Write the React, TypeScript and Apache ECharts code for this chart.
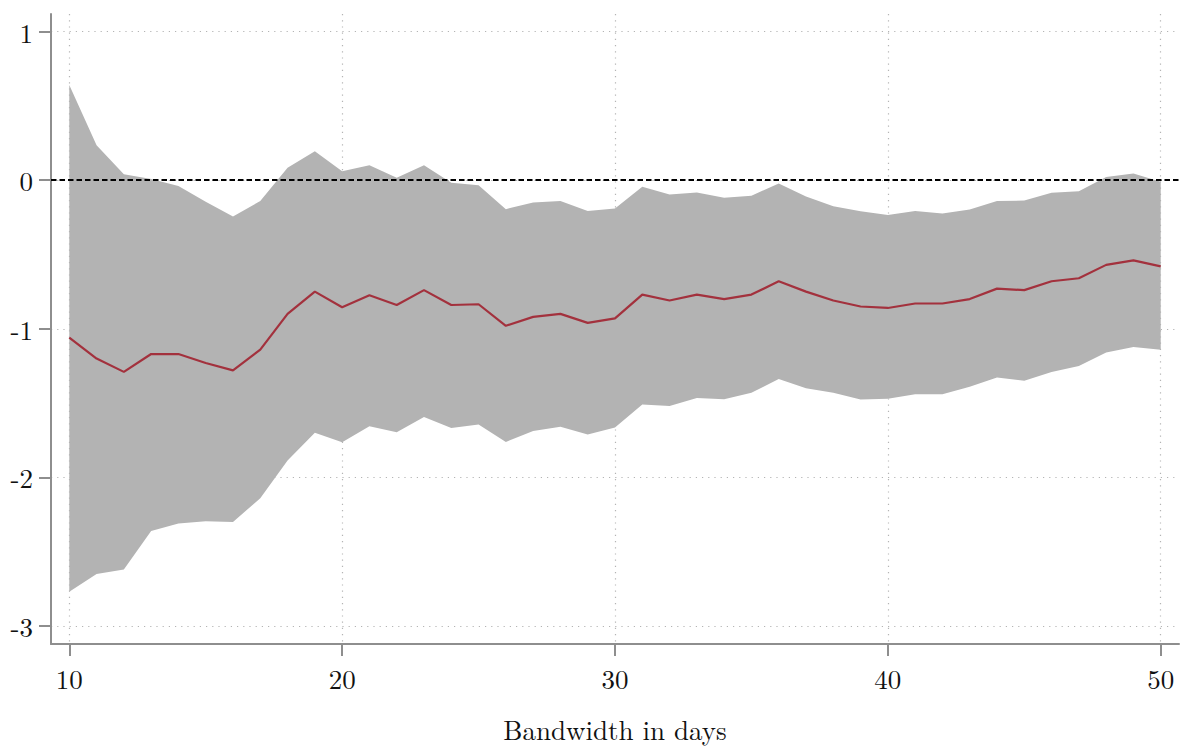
import React, { useEffect, useRef } from "react";
import * as echarts from "echarts";

const days = [10, 11, 12, 13, 14, 15, 16, 17, 18, 19, 20, 21, 22, 23, 24, 25, 26, 27, 28, 29, 30, 31, 32, 33, 34, 35, 36, 37, 38, 39, 40, 41, 42, 43, 44, 45, 46, 47, 48, 49, 50];

const estimate = [-1.06, -1.2, -1.29, -1.17, -1.17, -1.23, -1.28, -1.14, -0.9, -0.75, -0.855, -0.775, -0.84, -0.74, -0.84, -0.835, -0.98, -0.92, -0.9, -0.96, -0.93, -0.77, -0.81, -0.77, -0.8, -0.77, -0.68, -0.75, -0.81, -0.85, -0.86, -0.83, -0.83, -0.8, -0.73, -0.74, -0.68, -0.66, -0.57, -0.54, -0.58];

const upper = [0.64, 0.235, 0.04, 0.007, -0.04, -0.145, -0.245, -0.14, 0.083, 0.195, 0.06, 0.1, 0.016, 0.1, -0.018, -0.034, -0.195, -0.15, -0.14, -0.208, -0.19, -0.045, -0.096, -0.083, -0.119, -0.105, -0.022, -0.11, -0.175, -0.21, -0.235, -0.208, -0.224, -0.197, -0.141, -0.137, -0.085, -0.074, 0.022, 0.045, -0.011];

const lower = [-2.77, -2.65, -2.62, -2.36, -2.31, -2.295, -2.3, -2.14, -1.886, -1.7, -1.763, -1.656, -1.696, -1.593, -1.667, -1.644, -1.761, -1.687, -1.66, -1.711, -1.664, -1.51, -1.519, -1.465, -1.474, -1.43, -1.338, -1.4, -1.43, -1.476, -1.47, -1.44, -1.44, -1.39, -1.327, -1.349, -1.29, -1.25, -1.159, -1.123, -1.141];

const xTicks = [10, 20, 30, 40, 50];
const yTicks = [-3, -2, -1, 0, 1];
const xTitle = "Bandwidth in days";

const FONT = "'Latin Modern Roman', 'CMU Serif', 'Liberation Serif', serif";
const AXIS_COLOR = "#8e8e8e";
const GRID_COLOR = "#b4b4b4";

export default function App() {
  const ref = useRef<HTMLDivElement>(null);

  useEffect(() => {
    if (!ref.current) return;
    const chart = echarts.init(ref.current, null, { renderer: "svg" });

    const option: any = {
      animation: false,
      backgroundColor: "#ffffff",
      grid: { left: 51, right: 1, top: 14, bottom: 104, containLabel: false, outerBoundsMode: "none" },
      xAxis: {
        type: "value",
        min: 9.33,
        max: 50.67,
        name: xTitle,
        nameLocation: "middle",
        nameGap: 70,
        nameTextStyle: { fontFamily: FONT, fontSize: 27, lineHeight: 30, color: "#111" },
        axisLine: { show: true, onZero: false, lineStyle: { color: AXIS_COLOR, width: 2 } },
        axisTick: { show: true, length: 12, customValues: xTicks, lineStyle: { color: AXIS_COLOR, width: 2 } },
        axisLabel: {
          customValues: xTicks,
          margin: 20,
          fontFamily: FONT,
          fontSize: 27,
          color: "#111",
          formatter: (v: number) => String(v),
        },
        splitLine: { show: true, lineStyle: { color: GRID_COLOR, width: 1.2, type: [1.2, 5] } },
      },
      yAxis: {
        type: "value",
        min: -3.121,
        max: 1.118,
        axisLine: { show: true, onZero: false, lineStyle: { color: AXIS_COLOR, width: 2 } },
        axisTick: { show: true, length: 12, customValues: yTicks, lineStyle: { color: AXIS_COLOR, width: 2 } },
        axisLabel: {
          customValues: yTicks,
          margin: 18,
          fontFamily: FONT,
          fontSize: 27,
          color: "#111",
          formatter: (v: number) => String(v),
        },
        splitLine: { show: true, lineStyle: { color: GRID_COLOR, width: 1.2, type: [1.2, 5] } },
      },
      series: [
        {
          type: "custom",
          name: "95% CI",
          data: [[days[0], upper[0]]],
          silent: true,
          z: 2,
          renderItem: (_params: any, api: any) => {
            const pts: number[][] = [];
            for (let i = 0; i < days.length; i++) pts.push(api.coord([days[i], upper[i]]));
            for (let i = days.length - 1; i >= 0; i--) pts.push(api.coord([days[i], lower[i]]));
            return {
              type: "polygon",
              shape: { points: pts },
              style: { fill: "#b3b3b3", stroke: "none" },
            };
          },
        },
        {
          type: "line",
          name: "zero",
          data: [],
          z: 3,
          markLine: {
            silent: true,
            symbol: "none",
            label: { show: false },
            lineStyle: { color: "#000", width: 1.8, type: [5.5, 3] },
            data: [{ yAxis: 0 }],
          },
        },
        {
          type: "line",
          name: "Estimate",
          data: days.map((d, i) => [d, estimate[i]]),
          symbol: "none",
          z: 4,
          lineStyle: { color: "#a3313d", width: 2.2 },
        },
      ],
    };

    chart.setOption(option);
    return () => chart.dispose();
  }, []);

  return (
    <div
      ref={ref}
      style={{ position: "absolute", left: 0, top: 0, width: 1180, height: 748, background: "#fff" }}
    />
  );
}
